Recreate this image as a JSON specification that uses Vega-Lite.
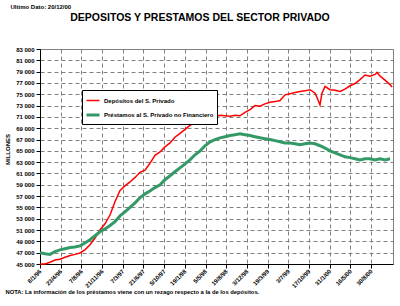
{
  "$schema": "https://vega.github.io/schema/vega-lite/v6.json",
  "width": 353,
  "height": 215,
  "autosize": "none",
  "padding": {"left": 40, "top": 49, "right": 7, "bottom": 42},
  "background": "white",
  "config": {
    "font": "Liberation Sans",
    "view": {"stroke": "#808080", "strokeWidth": 1},
    "axis": {"labelFont": "Liberation Sans", "titleFont": "Liberation Sans", "labelColor": "black", "titleColor": "black", "labelFontWeight": "bold", "titleFontWeight": "bold"},
    "axisBottom": {"labelAngle": -45, "labelAlign": "right", "labelBaseline": "middle", "labelFontSize": 6, "labelPadding": 2, "labelOverlap": false, "labelFlush": false}
  },
  "data": {
    "values": [
      {"fecha": "1996-01-08", "dep": 45000, "pre": 47000},
      {"fecha": "1996-02-03", "dep": 45000, "pre": 46800},
      {"fecha": "1996-02-28", "dep": 45300, "pre": 46700},
      {"fecha": "1996-03-25", "dep": 45700, "pre": 47200},
      {"fecha": "1996-04-19", "dep": 45850, "pre": 47500},
      {"fecha": "1996-05-15", "dep": 46200, "pre": 47700},
      {"fecha": "1996-06-10", "dep": 46500, "pre": 47900},
      {"fecha": "1996-07-05", "dep": 46700, "pre": 48000},
      {"fecha": "1996-07-31", "dep": 46950, "pre": 48200},
      {"fecha": "1996-08-25", "dep": 47500, "pre": 48700},
      {"fecha": "1996-09-20", "dep": 48400, "pre": 49300},
      {"fecha": "1996-10-16", "dep": 49600, "pre": 50000},
      {"fecha": "1996-11-10", "dep": 51000, "pre": 50700},
      {"fecha": "1996-12-06", "dep": 52100, "pre": 51200},
      {"fecha": "1997-01-01", "dep": 53700, "pre": 51800},
      {"fecha": "1997-01-26", "dep": 56000, "pre": 52500},
      {"fecha": "1997-02-21", "dep": 58000, "pre": 53500},
      {"fecha": "1997-03-18", "dep": 58800, "pre": 54200},
      {"fecha": "1997-04-13", "dep": 59500, "pre": 55000},
      {"fecha": "1997-05-09", "dep": 60300, "pre": 55800},
      {"fecha": "1997-06-03", "dep": 61200, "pre": 56700},
      {"fecha": "1997-06-29", "dep": 61600, "pre": 57400},
      {"fecha": "1997-07-24", "dep": 62800, "pre": 57900},
      {"fecha": "1997-08-19", "dep": 64200, "pre": 58500},
      {"fecha": "1997-09-14", "dep": 64800, "pre": 59000},
      {"fecha": "1997-10-09", "dep": 65700, "pre": 59900},
      {"fecha": "1997-11-04", "dep": 66400, "pre": 60600},
      {"fecha": "1997-11-29", "dep": 67400, "pre": 61300},
      {"fecha": "1997-12-25", "dep": 68100, "pre": 62000},
      {"fecha": "1998-01-20", "dep": 68800, "pre": 62700},
      {"fecha": "1998-02-14", "dep": 69500, "pre": 63400},
      {"fecha": "1998-03-12", "dep": 70000, "pre": 64300},
      {"fecha": "1998-04-07", "dep": 70400, "pre": 65000},
      {"fecha": "1998-05-02", "dep": 70600, "pre": 65900},
      {"fecha": "1998-05-28", "dep": 70800, "pre": 66600},
      {"fecha": "1998-06-22", "dep": 71000, "pre": 67000},
      {"fecha": "1998-07-18", "dep": 71300, "pre": 67300},
      {"fecha": "1998-08-13", "dep": 71200, "pre": 67500},
      {"fecha": "1998-09-07", "dep": 71100, "pre": 67700},
      {"fecha": "1998-10-03", "dep": 71300, "pre": 67850},
      {"fecha": "1998-10-28", "dep": 71200, "pre": 68000},
      {"fecha": "1998-11-23", "dep": 71800, "pre": 67850},
      {"fecha": "1998-12-19", "dep": 72300, "pre": 67700},
      {"fecha": "1999-01-13", "dep": 73000, "pre": 67500},
      {"fecha": "1999-02-08", "dep": 72900, "pre": 67300},
      {"fecha": "1999-03-05", "dep": 73300, "pre": 67150},
      {"fecha": "1999-03-31", "dep": 73600, "pre": 67000},
      {"fecha": "1999-04-26", "dep": 73700, "pre": 66800},
      {"fecha": "1999-05-21", "dep": 73900, "pre": 66600},
      {"fecha": "1999-06-16", "dep": 74900, "pre": 66400},
      {"fecha": "1999-07-12", "dep": 75100, "pre": 66400},
      {"fecha": "1999-08-06", "dep": 75300, "pre": 66250},
      {"fecha": "1999-09-01", "dep": 75500, "pre": 66100},
      {"fecha": "1999-09-26", "dep": 75600, "pre": 66250},
      {"fecha": "1999-10-22", "dep": 75800, "pre": 66400},
      {"fecha": "1999-11-17", "dep": 75200, "pre": 66250},
      {"fecha": "1999-12-02", "dep": 74000, "pre": null},
      {"fecha": "1999-12-12", "dep": 73100, "pre": 65900},
      {"fecha": "1999-12-22", "dep": 75200, "pre": null},
      {"fecha": "2000-01-07", "dep": 76400, "pre": 65500},
      {"fecha": "2000-02-01", "dep": 75800, "pre": 65000},
      {"fecha": "2000-02-27", "dep": 75700, "pre": 64650},
      {"fecha": "2000-03-24", "dep": 75500, "pre": 64300},
      {"fecha": "2000-04-18", "dep": 75900, "pre": 63950},
      {"fecha": "2000-05-14", "dep": 76500, "pre": 63800},
      {"fecha": "2000-06-08", "dep": 76900, "pre": 63600},
      {"fecha": "2000-07-04", "dep": 77600, "pre": 63400},
      {"fecha": "2000-07-30", "dep": 78400, "pre": 63600},
      {"fecha": "2000-08-24", "dep": 78200, "pre": 63600},
      {"fecha": "2000-09-19", "dep": 78500, "pre": 63400},
      {"fecha": "2000-09-29", "dep": 78850, "pre": null},
      {"fecha": "2000-10-15", "dep": 78200, "pre": 63600},
      {"fecha": "2000-11-09", "dep": 77500, "pre": 63400},
      {"fecha": "2000-12-05", "dep": 76700, "pre": 63600},
      {"fecha": "2000-12-15", "dep": 76300, "pre": null}
    ]
  },
  "transform": [
    {"fold": ["dep", "pre"], "as": ["serie", "valor"]},
    {"filter": "isValid(datum.valor)"}
  ],
  "resolve": {"axis": {"x": "independent", "y": "independent"}},
  "layer": [
    {
      "transform": [{"filter": "datum.serie == 'dep'"}],
      "mark": {"type": "line", "interpolate": "linear"},
      "encoding": {
        "x": {
          "field": "fecha", "type": "temporal",
          "scale": {"type": "utc", "domain": [{"year": 1996, "month": 1, "date": 8, "utc": true}, {"year": 2000, "month": 12, "date": 20, "utc": true}]},
          "axis": {
            "orient": "bottom",
            "values": [
              {"year": 1996, "month": 1, "date": 8, "utc": true},
              {"year": 1996, "month": 4, "date": 23, "utc": true},
              {"year": 1996, "month": 8, "date": 7, "utc": true},
              {"year": 1996, "month": 11, "date": 21, "utc": true},
              {"year": 1997, "month": 3, "date": 7, "utc": true},
              {"year": 1997, "month": 6, "date": 21, "utc": true},
              {"year": 1997, "month": 10, "date": 5, "utc": true},
              {"year": 1998, "month": 1, "date": 19, "utc": true},
              {"year": 1998, "month": 5, "date": 5, "utc": true},
              {"year": 1998, "month": 8, "date": 19, "utc": true},
              {"year": 1998, "month": 12, "date": 3, "utc": true},
              {"year": 1999, "month": 3, "date": 19, "utc": true},
              {"year": 1999, "month": 7, "date": 3, "utc": true},
              {"year": 1999, "month": 10, "date": 17, "utc": true},
              {"year": 2000, "month": 1, "date": 31, "utc": true},
              {"year": 2000, "month": 5, "date": 16, "utc": true},
              {"year": 2000, "month": 8, "date": 30, "utc": true}
            ],
            "labelExpr": "utcFormat(datum.value, '%-d/%-m/%y')",
            "labelAngle": -45,
            "labelAlign": "right",
            "labelBaseline": "middle",
            "labelFontSize": 6,
            "labelPadding": 2,
            "labelOverlap": false,
            "labelFlush": false,
            "tickColor": "black",
            "tickSize": 4,
            "domainColor": "black",
            "grid": true,
            "gridColor": "#808080",
            "gridDash": [4, 3],
            "title": "NOTA: La información de los préstamos viene con un rezago respecto a la de los depósitos.",
            "titleFontSize": 5.8,
            "titleX": -35,
            "titleY": 27,
            "titleAlign": "left",
            "titleAnchor": "start",
            "titleBaseline": "middle"
          }
        },
        "y": {
          "field": "valor", "type": "quantitative",
          "scale": {"domain": [45000, 83000], "nice": false, "zero": false},
          "axis": {
            "orient": "left",
            "values": [45000, 47000, 49000, 51000, 53000, 55000, 57000, 59000, 61000, 63000, 65000, 67000, 69000, 71000, 73000, 75000, 77000, 79000, 81000, 83000],
            "labelExpr": "replace(format(datum.value, ','), ',', ' ')",
            "labelFontSize": 6,
            "labelPadding": 2,
            "tickColor": "black",
            "tickSize": 4,
            "domainColor": "black",
            "grid": true,
            "gridColor": "#808080",
            "gridDash": [4, 3],
            "title": "MILLONES",
            "titleFontSize": 6,
            "titleAngle": -90,
            "titleX": -33,
            "titleY": 100,
            "titleAlign": "center",
            "titleBaseline": "middle"
          }
        },
        "color": {
          "field": "serie", "type": "nominal",
          "scale": {"domain": ["dep", "pre"], "range": ["#FF0000", "#339966"]},
          "legend": {
            "orient": "none", "legendX": 42, "legendY": 41, "direction": "vertical", "title": null,
            "strokeColor": "black", "fillColor": "white", "padding": 3,
            "symbolType": "stroke", "symbolSize": 169,
            "labelFontSize": 6, "labelFontWeight": "bold", "labelFont": "Liberation Sans", "labelColor": "black",
            "rowPadding": 3, "labelOffset": 3,
            "labelExpr": "datum.value == 'dep' ? 'Depósitos del S. Privado' : 'Préstamos al S. Privado no Financiero'"
          }
        },
        "strokeWidth": {
          "field": "serie", "type": "nominal",
          "scale": {"domain": ["dep", "pre"], "range": [1.5, 3]},
          "legend": {
            "orient": "none", "legendX": 42, "legendY": 41, "direction": "vertical", "title": null,
            "strokeColor": "black", "fillColor": "white", "padding": 3,
            "symbolType": "stroke", "symbolSize": 169,
            "labelFontSize": 6, "labelFontWeight": "bold", "labelFont": "Liberation Sans", "labelColor": "black",
            "rowPadding": 3, "labelOffset": 3,
            "labelExpr": "datum.value == 'dep' ? 'Depósitos del S. Privado' : 'Préstamos al S. Privado no Financiero'"
          }
        }
      }
    },
    {
      "transform": [{"filter": "datum.serie == 'pre'"}],
      "mark": {"type": "line", "interpolate": "linear"},
      "encoding": {
        "x": {
          "field": "fecha", "type": "temporal",
          "axis": {
            "orient": "top", "labels": false, "ticks": false, "domain": false, "grid": false,
            "title": "DEPOSITOS Y PRESTAMOS DEL SECTOR PRIVADO",
            "titleFontSize": 10.5,
            "titleX": 159.5,
            "titleY": -28.6,
            "titleAlign": "center",
            "titleAnchor": "middle",
            "titleBaseline": "alphabetic",
            "titleAngle": 0
          }
        },
        "y": {
          "field": "valor", "type": "quantitative",
          "axis": {
            "orient": "right", "labels": false, "ticks": false, "domain": false, "grid": false,
            "title": "Ultimo Dato: 20/12/00",
            "titleFontSize": 6,
            "titleAngle": 0,
            "titleX": -383,
            "titleY": -43,
            "titleAlign": "left",
            "titleBaseline": "middle"
          }
        },
        "color": {"field": "serie", "type": "nominal"},
        "strokeWidth": {"field": "serie", "type": "nominal"}
      }
    }
  ]
}
